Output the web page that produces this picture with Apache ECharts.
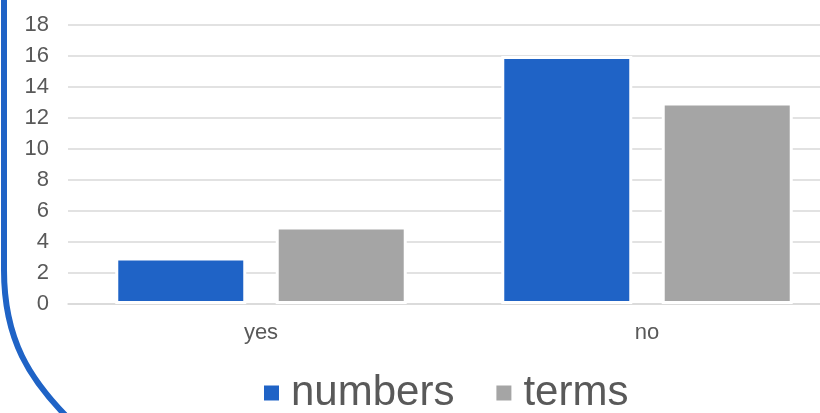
<!DOCTYPE html>
<html>
<head>
<meta charset="utf-8">
<script src="https://cdn.jsdelivr.net/npm/echarts@6/dist/echarts.min.js"></script>
<style>
  html, body { margin: 0; padding: 0; background: #fff; }
  #chart { width: 820px; height: 413px; }
</style>
</head>
<body>
<div id="chart"></div>
<script>
// data
var categories = ["yes", "no"];
var numbers = [3, 16];
var terms = [5, 13];

var myChart = echarts.init(document.getElementById("chart"));

var option = {
  animation: false,
  textStyle: { fontFamily: "Liberation Sans, Arial, sans-serif" },
  grid: { left: 68, width: 772, top: 25, height: 279, outerBoundsMode: "none", containLabel: false },
  legend: {
    bottom: -6,
    left: 257,
    itemWidth: 17,
    itemHeight: 17,
    itemGap: 40,
    icon: "rect",
    textStyle: { fontSize: 42, color: "#595959", padding: [0, 0, 0, 6] },
    data: ["numbers", "terms"]
  },
  xAxis: {
    type: "category",
    data: categories,
    axisTick: { show: false },
    axisLine: { lineStyle: { color: "#d9d9d9", width: 1.5 } },
    axisLabel: { fontSize: 22, color: "#595959", margin: 18 }
  },
  yAxis: {
    type: "value",
    min: 0,
    max: 18,
    interval: 2,
    axisLine: { show: false },
    axisTick: { show: false },
    splitLine: { lineStyle: { color: "#d9d9d9", width: 1.5 } },
    axisLabel: { fontSize: 22, color: "#595959", margin: 19 }
  },
  series: [
    {
      name: "numbers",
      type: "bar",
      data: numbers,
      barWidth: 131,
      barGap: "22.5%",
      itemStyle: { color: "#1f63c6", borderColor: "#fff", borderWidth: 3 }
    },
    {
      name: "terms",
      type: "bar",
      data: terms,
      barWidth: 131,
      itemStyle: { color: "#a5a5a5", borderColor: "#fff", borderWidth: 3 }
    }
  ],
  graphic: [
    {
      type: "line",
      shape: { x1: 4, y1: -10, x2: 4, y2: 271 },
      style: { stroke: "#1f63c6", lineWidth: 6 },
      z: 100
    },
    {
      type: "bezierCurve",
      shape: { x1: 4, y1: 270, cpx1: 4, cpy1: 340, cpx2: 30, cpy2: 380, x2: 70, y2: 420 },
      style: { stroke: "#1f63c6", lineWidth: 6, fill: null },
      z: 100
    }
  ]
};

myChart.setOption(option);
</script>
</body>
</html>
